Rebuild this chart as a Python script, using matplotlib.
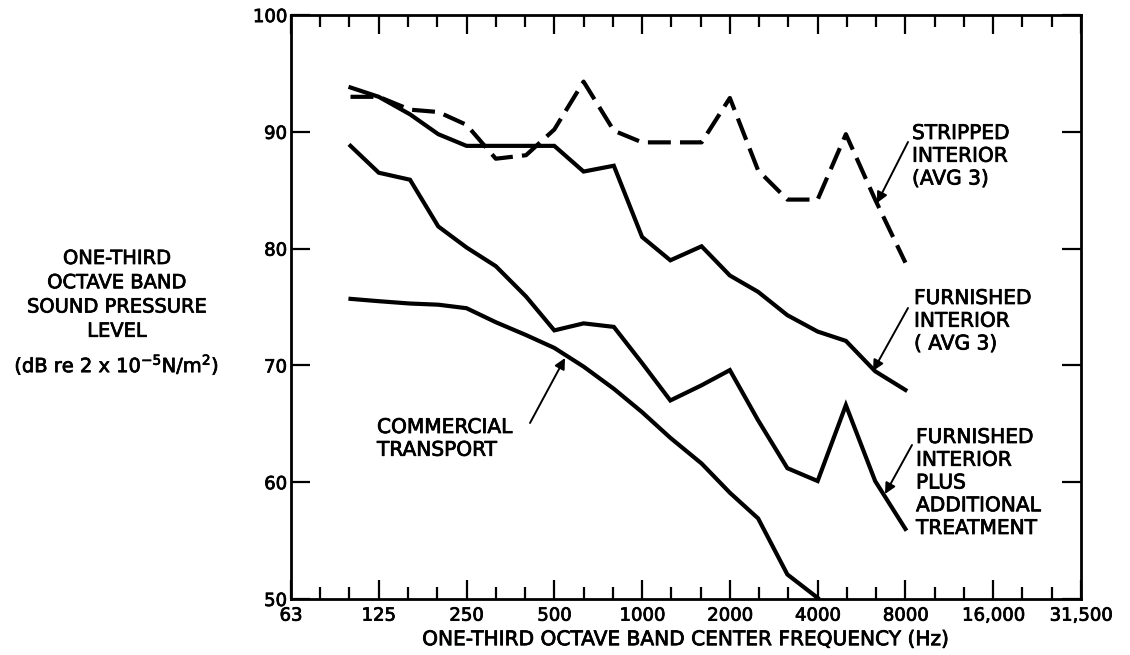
import numpy as np
import matplotlib
matplotlib.use("Agg")
import matplotlib.pyplot as plt
import matplotlib.patheffects as pe
from matplotlib.ticker import FixedLocator, NullFormatter

# ---- data ----
freqs = [100, 125, 160, 200, 250, 315, 400, 500, 630, 800, 1000, 1250,
         1600, 2000, 2500, 3150, 4000, 5000, 6300, 8000]
stripped = [93.0, 93.0, 91.9, 91.7, 90.6, 87.7, 88.0, 90.2, 94.3, 90.1, 89.1,
            89.1, 89.1, 92.9, 86.7, 84.2, 84.2, 89.8, 84.2, 78.8]
furnished = [93.8, 93.0, 91.5, 89.8, 88.8, 88.8, 88.8, 88.8, 86.6, 87.1, 81.0,
             79.0, 80.2, 77.7, 76.3, 74.3, 72.9, 72.1, 69.5, 67.9]
treated = [88.8, 86.5, 85.9, 81.9, 80.1, 78.5, 75.9, 73.0, 73.6, 73.3, 70.2,
           67.0, 68.3, 69.6, 65.3, 61.2, 60.1, 66.6, 60.1, 56.0]
commercial_f = [100, 125, 160, 200, 250, 315, 400, 500, 630, 800, 1000, 1250,
                1600, 2000, 2500, 3150, 4000]
commercial = [75.7, 75.5, 75.3, 75.2, 74.9, 73.7, 72.6, 71.5, 69.9, 68.0, 66.0,
              63.8, 61.6, 59.1, 56.9, 52.1, 50.1]

xtick_vals = [62.5, 125, 250, 500, 1000, 2000, 4000, 8000, 16000, 32000]
xtick_labels = ["63", "125", "250", "500", "1000", "2000", "4000", "8000",
                "16,000", "31,500"]
yticks = [50, 60, 70, 80, 90, 100]

FONT = "DejaVu Sans"
plt.rcParams['font.family'] = [FONT]

fig = plt.figure(figsize=(11.3, 6.55), dpi=100)
ax = fig.add_axes([0.2575, 0.0855, 0.6991, 0.8915])

LW = 3.0
ax.plot(freqs, stripped, color='black', lw=LW, linestyle=(0, (5.5, 2.2)),
        solid_joinstyle='miter', dash_capstyle='butt')
ax.plot(freqs, furnished, color='black', lw=LW, solid_joinstyle='miter')
ax.plot(freqs, treated, color='black', lw=LW, solid_joinstyle='miter')
ax.plot(commercial_f, commercial, color='black', lw=LW, solid_joinstyle='miter')

ax.set_xscale('log', base=2)
ax.set_xlim(62.5, 32000)
ax.set_ylim(50, 100)

ax.xaxis.set_major_locator(FixedLocator(xtick_vals))
ax.set_xticklabels(xtick_labels)
minor = [62.5 * 2 ** (k / 3.0) for k in range(28) if k % 3 != 0]
ax.xaxis.set_minor_locator(FixedLocator(minor))
ax.xaxis.set_minor_formatter(NullFormatter())
ax.set_yticks(yticks)
ax.set_yticklabels([str(v) for v in yticks])

ax.tick_params(axis='both', which='major', direction='in', length=13.5,
               width=1.6, top=True, right=True, labelsize=13, color='black')
ax.tick_params(axis='x', which='minor', direction='in', length=8.5,
               width=1.6, top=True)
ax.tick_params(axis='x', which='major', pad=5.5)
ax.tick_params(axis='y', which='major', pad=3)
for s in ax.spines.values():
    s.set_linewidth(2.0)

ax.set_xlabel("ONE-THIRD OCTAVE BAND CENTER FREQUENCY (Hz)", fontsize=14.5,
              labelpad=4)

fig.text(117 / 1130, 1 - 249 / 655,
         "ONE-THIRD\nOCTAVE BAND\nSOUND PRESSURE\nLEVEL",
         ha='center', va='top', fontsize=14, linespacing=1.35)
fig.text(117 / 1130, 1 - 365 / 655,
         "(dB re 2 x 10$^{-5}$N/m$^{2}$)",
         ha='center', va='center', fontsize=14)

ann_fs = 14.5
arrow_kw = dict(arrowstyle='-|>', color='black', lw=1.4, mutation_scale=16,
                shrinkA=0, shrinkB=0)

def annot(text, text_xy, tail_xy, head_xy):
    fig.text(text_xy[0] / 1130, 1 - text_xy[1] / 655, text, ha='left',
             va='top', fontsize=ann_fs, linespacing=1.25)
    fig.add_artist(matplotlib.patches.FancyArrowPatch(
        (tail_xy[0] / 1130, 1 - tail_xy[1] / 655),
        (head_xy[0] / 1130, 1 - head_xy[1] / 655),
        transform=fig.transFigure, **arrow_kw))

annot("STRIPPED\nINTERIOR\n(AVG 3)", (912, 124), (908, 142), (877, 203))
annot("FURNISHED\nINTERIOR\n( AVG 3)", (914, 289), (908, 308), (873, 371))
annot("FURNISHED\nINTERIOR\nPLUS\nADDITIONAL\nTREATMENT", (916, 428),
      (912, 445), (885, 494))
annot("COMMERCIAL\nTRANSPORT", (377, 418), (530, 423), (565, 358))

bold = [pe.withStroke(linewidth=0.55, foreground='black')]
for t in fig.findobj(matplotlib.text.Text):
    t.set_path_effects(bold)

fig.savefig("out.png", dpi=100)
